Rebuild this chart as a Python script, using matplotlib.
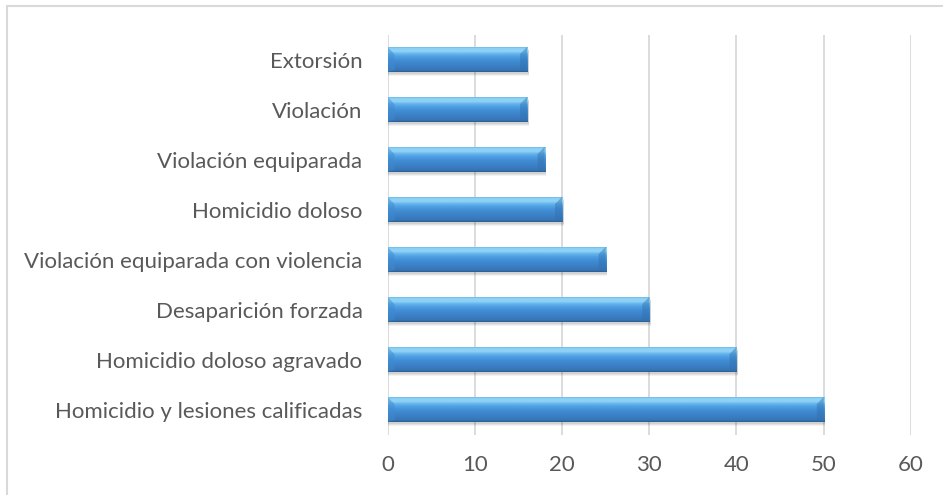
import matplotlib
matplotlib.use("Agg")
import matplotlib.pyplot as plt
import numpy as np
from matplotlib.patches import Polygon, Rectangle
from matplotlib.colors import LinearSegmentedColormap

categories = ["Extorsión", "Violación", "Violación equiparada", "Homicidio doloso",
              "Violación equiparada con violencia", "Desaparición forzada",
              "Homicidio doloso agravado", "Homicidio y lesiones calificadas"]
values = [16, 16, 18, 20, 25, 30, 40, 50]
xticks = [0, 10, 20, 30, 40, 50, 60]

W, H = 943, 495
fig = plt.figure(figsize=(W/100, H/100), dpi=100)
fig.patches.append(Rectangle((7.5/W, -1), 2, 2 - 5.5/H, transform=fig.transFigure,
                             fill=False, edgecolor="#d9d9d9", linewidth=1.5))
ax = fig.add_axes([387.5/W, 1 - 434.5/H, (911-387.5)/W, (434.5-34.5)/H])

n = len(categories)
ypos = np.arange(n)[::-1]  # first category on top
bars = ax.barh(ypos, values, height=0.5, color="#4a9be0", zorder=3, linewidth=0)

ax.set_xticks(xticks)
ax.set_yticks(ypos)
ax.set_yticklabels(categories)
for s in ax.spines.values():
    s.set_visible(False)
ax.grid(axis="x", color="#d9d9d9", linewidth=1.3, zorder=0)
ax.tick_params(length=0, labelsize=16, labelcolor="#595959")
ax.tick_params(axis="y", pad=18)
ax.tick_params(axis="x", pad=15)
for lab in ax.get_xticklabels() + ax.get_yticklabels():
    lab.set_fontfamily("Lato")

cmap = LinearSegmentedColormap.from_list("bar", [
    (0.0, "#2b5a8a"), (0.07, "#3675b6"), (0.45, "#418cd4"),
    (0.62, "#4e a0e3".replace(" ", "")), (0.75, "#6cb9ee"), (0.82, "#8ed2f6"),
    (0.94, "#8ed2f6"), (1.0, "#6ab8ea")])
grad = np.linspace(0, 1, 256).reshape(-1, 1)

xpx = 60 / (911 - 387.5)
ypx = 1 / 50.0
bx = 7 * xpx
by = 7 * ypx
for b in bars:
    x0, y0 = b.get_x(), b.get_y()
    w, h = b.get_width(), b.get_height()
    # soft shadow
    for k, a in [(3.5, 0.05), (2.5, 0.06), (1.5, 0.07)]:
        ax.add_patch(Rectangle((x0 + 0.5 * xpx, y0 - k * ypx), w + 1 * xpx, h, color="#000000",
                               alpha=a, zorder=2, linewidth=0))
    im = ax.imshow(grad, cmap=cmap, aspect="auto", origin="lower",
                   extent=(x0, x0 + w, y0, y0 + h), zorder=4, interpolation="bilinear")
    im.set_clip_path(b)
    top, bot = y0 + h, y0
    # left bevel
    ax.add_patch(Polygon([(x0, top), (x0 + bx, top - by), (x0 + bx, bot + 2 * ypx), (x0, bot)],
                         closed=True, facecolor="#3f8ad0", edgecolor="none", alpha=0.5, zorder=5))
    # right bevel
    xr = x0 + w
    ax.add_patch(Polygon([(xr, top), (xr - bx, top - by), (xr - bx, bot + 2 * ypx), (xr, bot)],
                         closed=True, facecolor="#3070ae", edgecolor="none", alpha=0.45, zorder=5))
ax.set_xlim(0, 60)
ax.set_ylim(-0.5, n - 0.5)

fig.savefig("out.png", dpi=100)
